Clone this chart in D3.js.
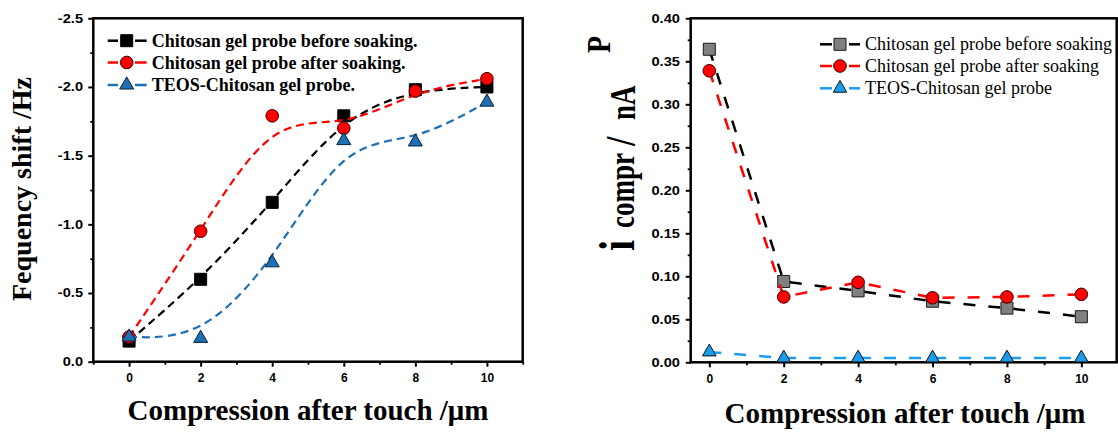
<!DOCTYPE html>
<html><head><meta charset="utf-8">
<script src="https://cdn.jsdelivr.net/npm/d3@7"></script>
<style>body{margin:0;background:#fff} svg{display:block}</style>
</head><body>
<svg id="c" width="1118" height="435"></svg>
<script>
// ---- data ----
const compression = [0, 2, 4, 6, 8, 10];
const seriesNames = ["Chitosan gel probe before soaking", "Chitosan gel probe after soaking", "TEOS-Chitosan gel probe"];
const freqBefore = [-0.15, -0.60, -1.16, -1.79, -1.98, -2.00];
const freqAfter  = [-0.18, -0.95, -1.79, -1.70, -1.97, -2.06];
const freqTEOS   = [-0.18, -0.17, -0.72, -1.61, -1.60, -1.89];
const curBefore  = [0.364, 0.094, 0.083, 0.071, 0.063, 0.053];
const curAfter   = [0.339, 0.076, 0.093, 0.075, 0.076, 0.079];
const curTEOS    = [0.012, 0.005, 0.005, 0.005, 0.005, 0.005];
const xTicks = [0, 2, 4, 6, 8, 10];
const freqTicks = [0, -0.5, -1.0, -1.5, -2.0, -2.5];
const curTicks = [0, 0.05, 0.10, 0.15, 0.20, 0.25, 0.30, 0.35, 0.40];

const svg = d3.select("#c");
const SERIF = "'Liberation Serif','Times New Roman',serif";
const SANS = "'Liberation Sans',Arial,sans-serif";

function panel(cfg) {
  const g = svg.append("g");
  const x = d3.scaleLinear().domain(cfg.xDomain).range(cfg.xRange);
  const y = d3.scaleLinear().domain(cfg.yDomain).range(cfg.yRange);
  const [x0, x1] = cfg.xRange, [yb, yt] = cfg.yRange;

  // minor ticks
  g.append("g").attr("transform", `translate(0,${yb})`)
    .call(d3.axisBottom(x).tickValues(cfg.xMinor).tickSize(3).tickFormat(""))
    .call(a => { a.select(".domain").remove(); a.selectAll("line").attr("stroke-width", 1.8); });
  g.append("g").attr("transform", `translate(${x0},0)`)
    .call(d3.axisLeft(y).tickValues(cfg.yMinor).tickSize(3).tickFormat(""))
    .call(a => { a.select(".domain").remove(); a.selectAll("line").attr("stroke-width", 1.8); });

  // major ticks
  g.append("g").attr("transform", `translate(0,${yb})`)
    .call(d3.axisBottom(x).tickValues(xTicks).tickSize(5).tickPadding(7).tickFormat(d3.format("d")))
    .call(a => {
      a.select(".domain").remove();
      a.selectAll("line").attr("stroke-width", 2);
      a.selectAll("text").attr("font-family", SANS).attr("font-weight", "bold").attr("font-size", 12).attr("fill", "#000");
    });
  g.append("g").attr("transform", `translate(${x0},0)`)
    .call(d3.axisLeft(y).tickValues(cfg.yTicks).tickSize(5).tickFormat(v => d3.format(cfg.yFmt)(v).replace("\u2212", "-")))
    .call(a => {
      a.select(".domain").remove();
      a.selectAll("line").attr("stroke-width", 2);
      a.selectAll("text").attr("font-family", SANS).attr("font-weight", "bold").attr("font-size", 12)
        .attr("fill", "#000").attr("x", cfg.yLabelX).attr("transform", "scale(1.22,1)");
    });

  // frame
  g.append("rect").attr("x", x0).attr("y", yt).attr("width", x1 - x0).attr("height", yb - yt)
    .attr("fill", "none").attr("stroke", "#000").attr("stroke-width", 2.5);

  // series
  cfg.series.forEach(s => {
    const pts = compression.map((c, i) => [c, s.values[i]]);
    const line = d3.line().x(d => x(d[0])).y(d => y(d[1])).curve(cfg.curve);
    g.append("path").attr("d", line(pts)).attr("fill", "none").attr("stroke", s.line)
      .attr("stroke-width", cfg.lw).attr("stroke-dasharray", cfg.dash);
    g.selectAll(null).data(pts).enter().append("path")
      .attr("transform", d => `translate(${x(d[0])},${y(d[1])})`)
      .attr("d", d3.symbol().type(s.sym).size(s.size))
      .attr("fill", s.fill).attr("stroke", s.stroke).attr("stroke-width", 1);
  });

  // legend
  cfg.series.forEach((s, i) => {
    const cy = cfg.leg.y[i];
    const L = cfg.leg;
    g.append("line").attr("x1", L.l0).attr("x2", L.l1).attr("y1", cy).attr("y2", cy).attr("stroke", s.line).attr("stroke-width", 2.5);
    g.append("line").attr("x1", L.r0).attr("x2", L.r1).attr("y1", cy).attr("y2", cy).attr("stroke", s.line).attr("stroke-width", 2.5);
    g.append("path").attr("transform", `translate(${L.m},${cy})`)
      .attr("d", d3.symbol().type(s.sym).size(s.size))
      .attr("fill", s.fill).attr("stroke", s.stroke).attr("stroke-width", 1);
    g.append("text").attr("x", L.tx).attr("y", cy + 6).text(s.label)
      .attr("font-family", SERIF).attr("font-size", 18).attr("font-weight", L.weight).attr("fill", "#000");
  });

  // x title
  g.append("text").attr("x", cfg.xTitleX).attr("y", cfg.xTitleY).attr("text-anchor", "middle")
    .attr("font-family", SERIF).attr("font-weight", "bold").attr("font-size", 29).text("Compression after touch /\u03bcm");
  return g;
}

// Left panel
const gl = panel({
  xDomain: [-1, 11], xRange: [93.3, 522.7],
  yDomain: [0, -2.5], yRange: [361.7, 18.3],
  xMinor: [-1, 1, 3, 5, 7, 9, 11],
  yMinor: d3.range(0, 11).map(i => -0.25 - 0.5 * i).filter(v => v > -2.5),
  yTicks: freqTicks, yFmt: ".1f", yLabelX: -8.4,
  curve: d3.curveBasis, lw: 2.2, dash: "8,5",
  series: [
    {label: seriesNames[0] + ".", values: freqBefore, line: "#000", fill: "#000", stroke: "#000", sym: d3.symbolSquare, size: 144},
    {label: seriesNames[1] + ".", values: freqAfter, line: "#ff0000", fill: "#ff0000", stroke: "#3a0000", sym: d3.symbolCircle, size: 125},
    {label: seriesNames[2] + ".", values: freqTEOS, line: "#1f6fb4", fill: "#1f6fb4", stroke: "#0b2238", sym: d3.symbolTriangle, size: 85}
  ],
  leg: {y: [40.7, 62.5, 85], l0: 107.7, l1: 118, r0: 135, r1: 146.7, m: 126.7, tx: 151.7, weight: "bold"},
  xTitleX: 308, xTitleY: 420
});
gl.append("text").attr("transform", "translate(31,189) rotate(-90)").attr("text-anchor", "middle")
  .attr("font-family", SERIF).attr("font-weight", "bold").attr("font-size", 28).text("Fequency shift /Hz");

// Right panel
const gr = panel({
  xDomain: [-0.5, 10.95], xRange: [690.7, 1116.7],
  yDomain: [0, 0.4], yRange: [362.3, 18.3],
  xMinor: [1, 3, 5, 7, 9],
  yMinor: d3.range(0, 8).map(i => 0.025 + 0.05 * i),
  yTicks: curTicks, yFmt: ".2f", yLabelX: -8.8,
  curve: d3.curveLinear, lw: 2.5, dash: "12,13",
  series: [
    {label: seriesNames[0], values: curBefore, line: "#000", fill: "#808080", stroke: "#1a1a1a", sym: d3.symbolSquare, size: 144},
    {label: seriesNames[1], values: curAfter, line: "#ff0000", fill: "#ff0000", stroke: "#3a0000", sym: d3.symbolCircle, size: 125},
    {label: seriesNames[2], values: curTEOS, line: "#1a9cf0", fill: "#1a9cf0", stroke: "#111", sym: d3.symbolTriangle, size: 80}
  ],
  leg: {y: [44.3, 66, 88.3], l0: 820, l1: 832, r0: 849, r1: 860, m: 840, tx: 865, weight: "normal"},
  xTitleX: 905, xTitleY: 423
});
// right y title pieces
function rot(txt, px, py, fs, sc) {
  gr.append("text").attr("transform", `translate(${px},${py}) rotate(-90) scale(1,${sc})`)
    .attr("font-family", SERIF).attr("font-weight", "bold").attr("font-size", fs).text(txt);
}
rot("i", 634, 251, 40, 1.25);
rot("compr", 634, 228, 27, 1.35);
rot("/", 635, 146, 34, 1.25);
rot("nA", 635, 120, 27, 1.3);
rot("P", 610, 53, 28, 1.22);
</script>
</body></html>
